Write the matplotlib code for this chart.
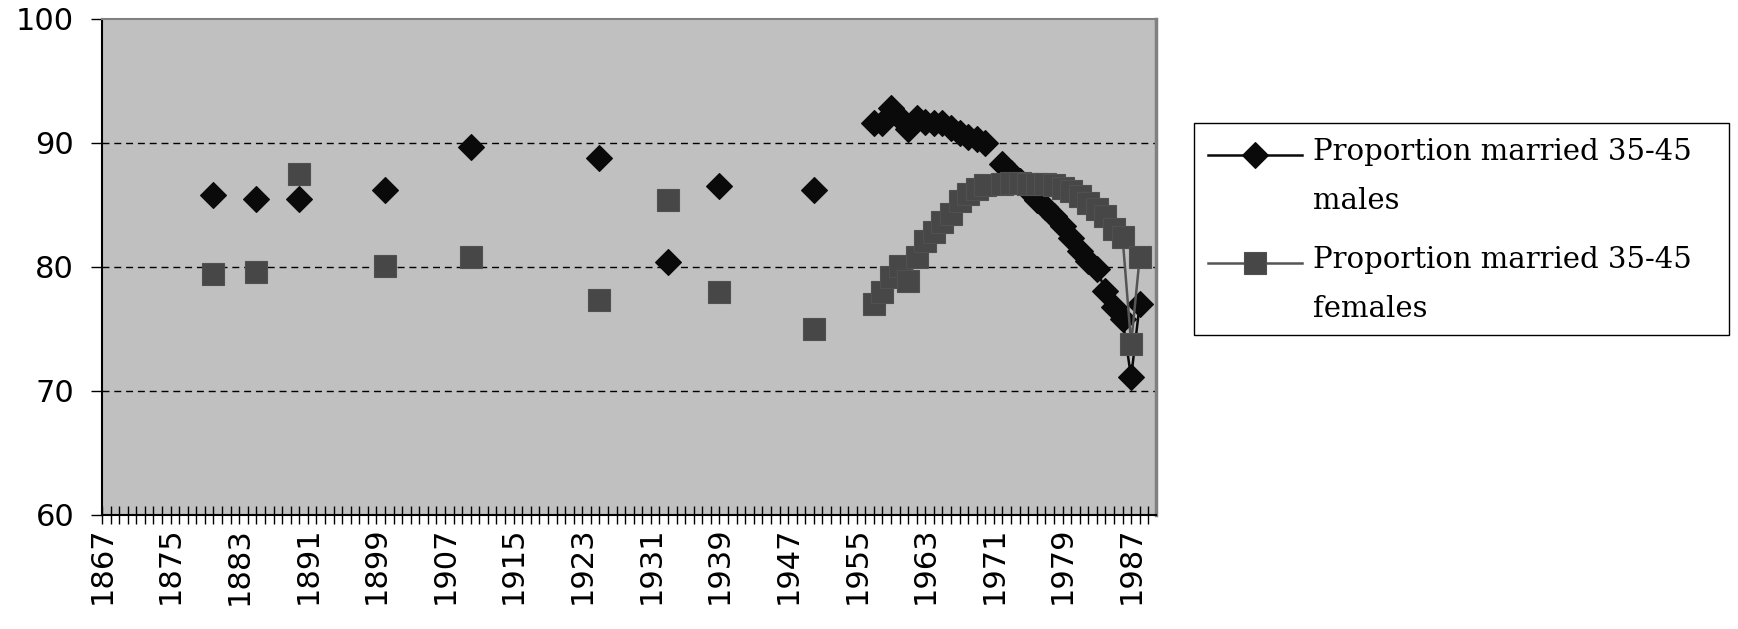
import numpy as np
import pandas as pd
import matplotlib
matplotlib.use('Agg')
import matplotlib.pyplot as plt
from matplotlib.lines import Line2D
from matplotlib.patches import Rectangle

# proportion of 35-45 year olds who are married, by year
male_years = [1880, 1885, 1890, 1900, 1910, 1925, 1933, 1939, 1950,
              1957, 1958, 1959, 1960, 1961, 1962, 1963, 1964, 1965, 1966,
              1967, 1968, 1969, 1970, 1972, 1973, 1974, 1975, 1976, 1977,
              1978, 1979, 1980, 1981, 1982, 1983, 1984, 1985, 1986, 1987, 1988]
male_values = [85.8, 85.5, 85.5, 86.2, 89.7, 88.8, 80.4, 86.5, 86.2,
               91.6, 91.6, 92.8, 92.0, 91.1, 92.0, 91.7, 91.6, 91.6, 91.2,
               90.8, 90.5, 90.3, 90.0, 88.3, 87.6, 86.9, 86.2, 85.4, 84.8,
               84.1, 83.3, 82.3, 81.3, 80.5, 79.8, 78.1, 76.8, 75.8, 71.1, 77.0]

female_years = male_years
female_values = [79.4, 79.6, 87.5, 80.1, 80.8, 77.3, 85.4, 78.0, 75.0,
                 77.0, 78.0, 79.2, 80.1, 78.9, 80.8, 82.1, 82.8, 83.6, 84.3,
                 85.3, 85.9, 86.3, 86.6, 86.7, 86.8, 86.8, 86.7, 86.7, 86.7,
                 86.6, 86.4, 86.1, 85.7, 85.2, 84.7, 84.1, 83.1, 82.4, 73.8, 80.8]

labels = ['Proportion married 35-45\nmales', 'Proportion married 35-45\nfemales']
year_range = range(1867, 1990)
tick_years = list(range(1867, 1990, 8))
y_ticks = [60, 70, 80, 90, 100]
grid_levels = [70, 80, 90]

# missing years become NaN so the lines break between observations
males = pd.Series(male_values, index=male_years).reindex(year_range)
females = pd.Series(female_values, index=female_years).reindex(year_range)

male_style = dict(color='#0a0a0a', lw=1.8, marker='D', ms=13.5,
                  mfc='#0a0a0a', mec='#0a0a0a', mew=0.8)
female_style = dict(color='#555555', lw=1.8, marker='s', ms=16,
                    mfc='#474747', mec='#505050', mew=0.8)

W, H = 1738, 629
fig = plt.figure(figsize=(W / 100, H / 100), dpi=100)
ax = fig.add_axes([102 / W, 1 - 515 / H, (1156 - 102) / W, (515 - 19) / H])
ax.set_facecolor('#c0c0c0')

for v in grid_levels:
    ax.axhline(v, color='black', lw=1, ls=(0, (5, 3.5)), zorder=1)

ax.plot(males.index, males.values, zorder=3, **male_style)
ax.plot(females.index, females.values, zorder=4, **female_style)

ax.set_xlim(1867, 1989.9)
ax.set_ylim(60, 100)
ax.set_yticks(y_ticks)
ax.set_xticks(tick_years)
ax.set_xticks(list(year_range), minor=True)
ax.set_xticklabels([str(y) for y in tick_years], rotation=90)

ax.tick_params(axis='x', which='both', direction='inout', length=13, width=1,
               labelsize=22, pad=2)
ax.tick_params(axis='y', direction='out', length=8, width=1,
               labelsize=22, pad=12)

for side in ['left', 'bottom']:
    ax.spines[side].set_color('black')
    ax.spines[side].set_linewidth(1.5)
ax.spines['top'].set_color('#808080')
ax.spines['top'].set_linewidth(1.5)
ax.spines['right'].set_color('#808080')
ax.spines['right'].set_linewidth(2.5)

# legend box on the right, handle level with the first text line
fig.add_artist(Rectangle((1194 / W, 1 - 335 / H), (1729 - 1194) / W, (335 - 123) / H,
                         transform=fig.transFigure, facecolor='white',
                         edgecolor='black', lw=1))
for style, label, y_px in [(male_style, labels[0], 155), (female_style, labels[1], 263)]:
    y = 1 - y_px / H
    fig.add_artist(Line2D([1208 / W, 1255 / W, 1302 / W], [y, y, y],
                          transform=fig.transFigure, markevery=[1], **style))
    fig.text(1313 / W, 1 - (y_px - 17) / H, label, va='top', ha='left',
             family='DejaVu Serif', fontsize=21, linespacing=1.95)

fig.savefig('out.png', dpi=100)
